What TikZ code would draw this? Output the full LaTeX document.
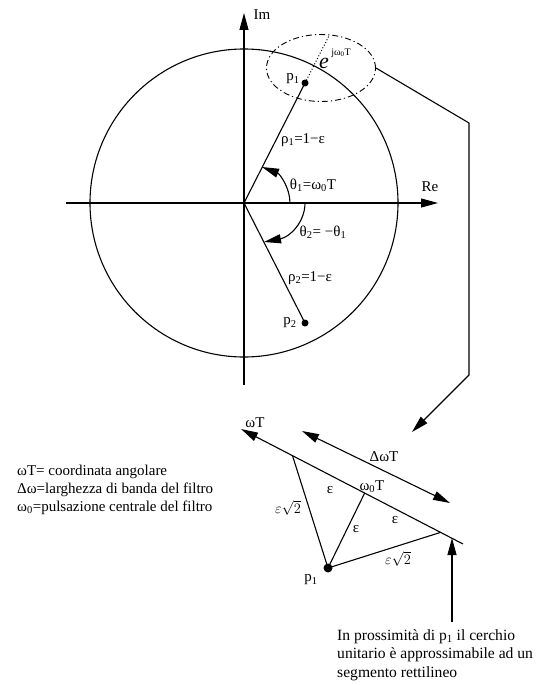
\documentclass[tikz,border=0pt]{standalone}
\usepackage{fontspec}
\setmainfont{Liberation Serif}
\usepackage{tikz}
\usetikzlibrary{calc,arrows.meta,shapes.geometric}
\tikzset{
  pline/.style={line width=1.1pt},
  tri/.style={-{Triangle[length=17pt,width=9pt]}},
  lbl/.style={inner sep=0pt, font=\fontsize{15}{18}\selectfont},
  pdot/.style={circle, fill=black, inner sep=0pt, minimum size=7pt},
}

\begin{document}
\begin{tikzpicture}[x=1pt, y=-1pt]
  \useasboundingbox (0,0) rectangle (540,685);

  % z plane: unit circle and axes
  \coordinate (O) at (244,203);
  \coordinate (reL) at (66,203);
  \coordinate (reR) at (438,203);
  \coordinate (imB) at (244,385);
  \coordinate (imT) at (244,13);
  \draw[pline] (O) circle[radius=154pt];
  \draw[pline,tri] (reL) -- (reR);
  \draw[pline,tri] (imB) -- (imT);
  \node[lbl] (re) at (430,187) {Re};
  \node[lbl] (im) at (262,15) {Im};

  % poles p1, p2
  \node[pdot] (p1) at (305,83) {};
  \node[pdot] (p2) at (305,323) {};
  \draw[pline] (O) -- (p1.center);
  \draw[pline] (O) -- (p2.center);
  \node[lbl] (p1l) at (293,79) {p\textsubscript{1}};
  \node[lbl] (p2l) at (290,323) {p\textsubscript{2}};
  \node[lbl] (rho1) at (303,140) {ρ\textsubscript{1}=1−ε};
  \node[lbl] (rho2) at (310,278) {ρ\textsubscript{2}=1−ε};

  % angles
  \coordinate (t1a) at (290,203);
  \coordinate (t1b) at (262,167);
  \coordinate (t2a) at (305,203);
  \coordinate (t2b) at (264,242);
  \draw[pline,tri] (t1a) .. controls (290,188) and (280,174) .. (t1b);
  \draw[pline,tri] (t2a) .. controls (305,222) and (290,237) .. (t2b);
  \node[lbl] (th1) at (313,185) {θ\textsubscript{1}=ω\textsubscript{0}T};
  \node[lbl] (th2) at (323,232) {θ\textsubscript{2}= −θ\textsubscript{1}};

  % zoom region around p1
  \node[draw, ellipse, line width=0.9pt, dash pattern=on 6pt off 3pt on 1.2pt off 3pt,
        minimum width=109pt, minimum height=67pt, inner sep=0pt] (zoom) at (321,68) {};
  \draw[dotted, line width=1pt] (p1.center) -- ($(O)!1.4!(p1)$);
  \node[inner sep=0pt, font=\fontsize{22}{22}\selectfont\itshape] (e) at (324,63) {e};
  \node[inner sep=0pt, font=\fontsize{10}{10}\selectfont] (ej) at (341,53) {jω\textsubscript{0}T};
  \coordinate (k1) at (469,123);
  \coordinate (k2) at (469,375);
  \coordinate (k3) at (412,432);
  \draw[pline,tri] (zoom.east) -- (k1) -- (k2) -- (k3);

  % zoomed view: circle as a straight segment
  \coordinate (wT) at (241,429);
  \coordinate (wE) at (463,544);
  \draw[pline,tri] (wE) -- (wT);
  \coordinate (A) at ($(wT)!0.232!(wE)$);
  \coordinate (M) at ($(wT)!0.557!(wE)$);
  \coordinate (B) at ($(wT)!0.899!(wE)$);
  \node[pdot, minimum size=9pt] (q1) at (328,568) {};
  \draw[pline] (A) -- (q1.center) -- (B);
  \draw[pline] (q1.center) -- (M);
  \coordinate (dwL) at (302,431);
  \coordinate (dwR) at (450,503);
  \draw[pline,{Triangle[length=17pt,width=9pt]}-{Triangle[length=17pt,width=9pt]}] (dwL) -- (dwR);
  \node[lbl] (wTl) at (255,423) {ωT};
  \node[lbl] (dwl) at (384,457) {ΔωT};
  \node[lbl] (w0l) at (372,487) {ω\textsubscript{0}T};
  \node[lbl] (e1) at (330,490) {ε};
  \node[lbl] (e2) at (356,529) {ε};
  \node[lbl] (e3) at (395,520) {ε};
  \node[lbl] (es1) at (288,508) {$\varepsilon\sqrt{2}$};
  \node[lbl] (es2) at (398,559) {$\varepsilon\sqrt{2}$};
  \node[lbl] (q1l) at (311,580) {p\textsubscript{1}};

  % notes
  \node[lbl, align=left, anchor=north west] (legend) at (17,465)
    {ωT= coordinata angolare\\Δω=larghezza di banda del filtro\\ω\textsubscript{0}=pulsazione centrale del filtro};
  \coordinate (nB) at (452,622);
  \coordinate (nT) at (452,538);
  \draw[pline,tri] (nB) -- (nT);
  \node[lbl, font=\fontsize{15.6}{18.5}\selectfont, align=left, anchor=north west] (note) at (337,629)
    {In prossimità di p\textsubscript{1} il cerchio\\unitario è approssimabile ad un\\segmento rettilineo};
\end{tikzpicture}
\end{document}
